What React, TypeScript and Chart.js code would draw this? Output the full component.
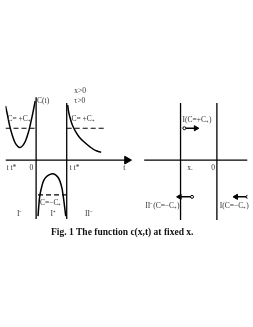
import { useEffect, useRef } from "react";
import { Chart, registerables } from "chart.js";

Chart.register(...registerables);

const W = 253;
const H = 327;

const wellLeftX = [0, 2, 4, 7, 10, 13, 15, 18, 21, 24, 26, 28, 30, 31];
const wellLeftY = [104, 113, 123, 134, 142, 146, 147, 145, 140, 131, 123, 114, 104, 99];

const decayX = [65, 66, 68, 70, 73, 77, 82, 88, 94, 100];
const decayY = [103, 110, 118, 124, 130, 136, 141, 146, 150, 152];

const humpX = [34, 35, 36, 38, 40, 43, 46, 49, 52, 55, 57, 59, 60, 61, 62, 63];
const humpY = [218, 205, 196, 187, 181, 177, 175, 174, 175, 178, 182, 189, 195, 202, 210, 218];

// Straight guide segments: [x1, y1, x2, y2]
const dashedSegs = [
  [0, 127, 31, 127],
  [64, 127, 104, 127],
  [34, 196, 64, 196],
];
const solidSegs = [
  [32, 95, 32, 221],
  [64, 101, 64, 221],
  [183, 101, 183, 222],
  [221, 101, 221, 222],
  [0, 160, 125, 160],
  [145, 160, 253, 160],
];

// Flow arrows: [tailX, tailY, headX, headY]
const arrows = [
  [187, 127, 199, 127],
  [195, 198, 182, 198],
  [253, 198, 241, 198],
];

// Axis arrowhead
const axisHead = [127, 160];

// Text annotations
const labelTexts = ["C(t)", "x>0", "τ>0", "C= +C₊", "C= +C₊", "C=−C₊", "I⁻", "I⁺", "II⁻",
  "t t*", "0", "t t*", "t", "I(C=+C₊)", "x.", "0", "II⁻(C=−C₊)", "I(C=−C₊)"];
const labelX = [33, 72, 72, 2, 69, 36, 12, 47, 83, 1, 25, 67, 123, 185, 190, 215, 182, 224];
const labelY = [99, 88, 99, 118, 118, 204, 216, 216, 216, 168, 168, 168, 168, 119, 168, 168, 208, 208];
const labelAlign = ["left", "left", "left", "left", "left", "left", "left", "left", "left",
  "left", "left", "left", "left", "left", "left", "left", "right", "left"];

const caption = "Fig. 1 The function c(x,t) at fixed x.";
const captionX = 122;
const captionY = 235;

const pts = (xs: number[], ys: number[]) => xs.map((x, i) => ({ x, y: ys[i] }));

const textPlugin = {
  id: "texts",
  afterDatasetsDraw(chart: any) {
    const { ctx, scales } = chart;
    const sx = scales.x, sy = scales.y;
    ctx.save();
    ctx.fillStyle = "#333";
    ctx.textBaseline = "middle";
    ctx.font = '7.5px "Liberation Serif", serif';
    labelTexts.forEach((t, i) => {
      ctx.textAlign = labelAlign[i];
      ctx.fillText(t, sx.getPixelForValue(labelX[i]), sy.getPixelForValue(labelY[i]));
    });
    ctx.fillStyle = "#111";
    ctx.font = 'bold 9.5px "Liberation Serif", serif';
    ctx.textAlign = "center";
    ctx.fillText(caption, sx.getPixelForValue(captionX), sy.getPixelForValue(captionY));
    ctx.restore();
  },
};

export default function App() {
  const ref = useRef<HTMLCanvasElement>(null);

  useEffect(() => {
    if (!ref.current) return;
    const line = (data: any[], extra: any = {}) => ({
      data,
      showLine: true,
      borderColor: "#000",
      borderWidth: 1.5,
      pointRadius: 0,
      tension: 0.35,
      ...extra,
    });
    const datasets: any[] = [
      line(pts(wellLeftX, wellLeftY)),
      line(pts(decayX, decayY)),
      line(pts(humpX, humpY)),
      ...dashedSegs.map((s) => line([{ x: s[0], y: s[1] }, { x: s[2], y: s[3] }], { borderDash: [5, 3], borderWidth: 1.2, tension: 0 })),
      ...solidSegs.map((s) => line([{ x: s[0], y: s[1] }, { x: s[2], y: s[3] }], { borderWidth: 1.3, tension: 0 })),
      ...arrows.map((a) => line([{ x: a[0], y: a[1] }, { x: a[2], y: a[3] }], {
        tension: 0,
        borderWidth: 1.5,
        pointStyle: ["circle", "triangle"],
        pointRadius: [1.5, 3],
        pointRotation: [0, a[2] > a[0] ? 90 : 270],
        pointBackgroundColor: ["#fff", "#000"],
        pointBorderColor: "#000",
        pointBorderWidth: 1,
      })),
      {
        data: [{ x: axisHead[0], y: axisHead[1] }],
        showLine: false,
        pointStyle: "triangle",
        pointRadius: 4.5,
        pointRotation: 90,
        pointBackgroundColor: "#000",
        pointBorderColor: "#000",
      },
    ];
    const chart = new Chart(ref.current, {
      type: "scatter",
      data: { datasets },
      options: {
        animation: false,
        responsive: false,
        maintainAspectRatio: false,
        layout: { padding: 0 },
        plugins: { legend: { display: false }, tooltip: { enabled: false } },
        scales: {
          x: { type: "linear", min: 0, max: W, display: false },
          y: { type: "linear", min: 0, max: H, reverse: true, display: false },
        },
      },
      plugins: [textPlugin],
    });
    return () => chart.destroy();
  }, []);

  return (
    <div style={{ position: "absolute", left: 0, top: 0, width: W, height: H, background: "#fff" }}>
      <canvas ref={ref} width={W} height={H} style={{ width: W, height: H }} />
    </div>
  );
}
